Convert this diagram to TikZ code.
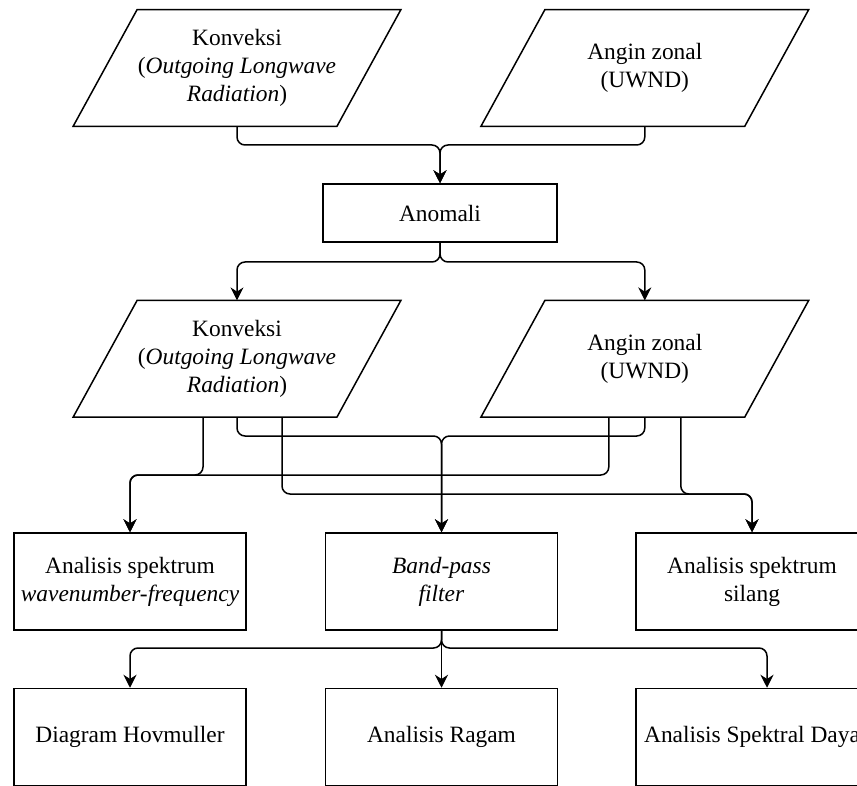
\documentclass[tikz,border=0pt]{standalone}
\usepackage{fontspec}
\setmainfont{Liberation Serif}
\usepackage{tikz}
\usetikzlibrary{arrows.meta}
\usetikzlibrary{positioning}

\begin{document}
\begin{tikzpicture}[x=0.5pt,y=-0.5pt,>={Stealth[length=6.5pt,width=6.5pt]},
  font=\fontsize{11.7}{14}\selectfont,
  para node/.style={rectangle,minimum width=131.5pt,minimum height=58pt,align=center,inner sep=2pt},
  box node/.style={rectangle,draw,line width=0.75pt,minimum width=116pt,minimum height=48.5pt,align=center,inner sep=2pt},
  flow/.style={->,line width=0.75pt,rounded corners=4pt}]

  \useasboundingbox (0,0) rectangle (857,786);
  \clip (0,0) rectangle (857,786);

  \node[para node] (konv1) at (237,68) {Konveksi\\(\textit{Outgoing Longwave}\\\textit{Radiation})};
  \node[para node] (angin1) [right=72pt of konv1] {Angin zonal\\(UWND)};
  \node[box node,minimum width=117pt,minimum height=29pt] (anomali) at (440,213) {Anomali};
  \node[para node] (konv2) [below=87pt of konv1] {Konveksi\\(\textit{Outgoing Longwave}\\\textit{Radiation})};
  \node[para node] (angin2) [right=72pt of konv2] {Angin zonal\\(UWND)};

  \foreach \n in {konv1,angin1,konv2,angin2}
    \draw[line width=0.75pt] ([xshift=-16pt]\n.south west) -- ([xshift=-16pt]\n.south east)
      -- ([xshift=16pt]\n.north east) -- ([xshift=16pt]\n.north west) -- cycle;

  \node[box node] (spek) at (130,581.5) {Analisis spektrum\\\textit{wavenumber-frequency}};
  \node[box node] (band) [right=39pt of spek] {\textit{Band-pass}\\\textit{filter}};
  \node[box node] (silang) [right=38.5pt of band] {Analisis spektrum\\silang};
  \node[box node] (diag) [below=28.5pt of spek] {Diagram Hovmuller};
  \node[box node] (ragam) [below=28.5pt of band] {Analisis Ragam};
  \node[box node] (daya) [below=28.5pt of silang] {Analisis Spektral Daya};

  % split levels
  \coordinate (ytop) at (0,145);
  \coordinate (ysplit) at (0,262);
  \coordinate (yb) at (0,436);
  \coordinate (ya) at (0,475);
  \coordinate (yc) at (0,494);
  \coordinate (yd) at (0,648);
  \coordinate (dayain) at ([xshift=7.5pt]daya.north);

  \draw[flow] (konv1.south) |- (anomali.north |- ytop) -- (anomali.north);
  \draw[flow] (angin1.south) |- (anomali.north |- ytop) -- (anomali.north);
  \draw[flow] (anomali.south) |- (konv2.north |- ysplit) -- (konv2.north);
  \draw[flow] (anomali.south) |- (angin2.north |- ysplit) -- (angin2.north);

  \draw[flow] ([xshift=-17pt]konv2.south) |- (spek.north |- ya) -- (spek.north);
  \draw[flow] ([xshift=-18pt]angin2.south) |- (spek.north |- ya) -- (spek.north);
  \draw[flow] (konv2.south) |- (band.north |- yb) -- (band.north);
  \draw[flow] (angin2.south) |- (band.north |- yb) -- (band.north);
  \draw[flow] ([xshift=22.5pt]konv2.south) |- (silang.north |- yc) -- (silang.north);
  \draw[flow] ([xshift=18pt]angin2.south) |- (silang.north |- yc) -- (silang.north);

  \draw[flow] (band.south) |- (diag.north |- yd) -- (diag.north);
  \draw[flow] (band.south) -- (ragam.north);
  \draw[flow] (band.south) |- (dayain |- yd) -- (dayain);
\end{tikzpicture}
\end{document}
